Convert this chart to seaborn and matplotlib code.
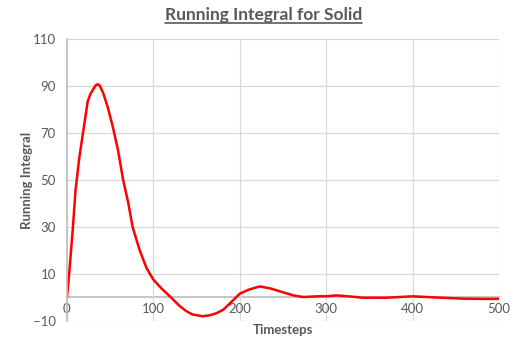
import matplotlib
matplotlib.use("Agg")
import matplotlib.pyplot as plt
import seaborn as sns
import pandas as pd
from matplotlib.lines import Line2D

# values
timesteps = [0, 3, 7, 10, 14, 18, 21, 24, 27, 30, 33, 35.5, 38, 42, 47, 53, 59,
             65, 71, 76, 84, 92, 100, 109, 121, 130, 138, 145, 157, 165,
             173, 181, 190, 200, 210, 223, 236, 250, 262, 273, 290, 300, 312,
             325, 342, 370, 400, 427, 458, 480, 500]
running_integral = [0, 11.8, 30.3, 45.9, 58.6, 68.6, 76, 83.4, 86.5, 88.4, 90.2,
                    90.8, 90.2, 87, 81.3, 72.8, 62.9, 50.1, 40.2, 30, 20.3, 12.6,
                    7.6, 4, -0.2, -3.5, -5.8, -7.2, -8.0, -7.6, -6.7, -5.2,
                    -2.0, 1.6, 3.3, 4.7, 3.8, 2.2, 0.9, 0.2, 0.5, 0.5, 0.9, 0.5,
                    -0.1, -0.1, 0.5, 0.0, -0.5, -0.6, -0.6]

y_ticks = [-10, 10, 30, 50, 70, 90, 110]
x_ticks = [0, 100, 200, 300, 400, 500]

df = pd.DataFrame({"Timesteps": timesteps, "Running Integral": running_integral})

sns.set_theme(style="white")
plt.rcParams["font.family"] = ["Lato", "DejaVu Sans"]

grey = "#595959"
grid_grey = "#d9d9d9"

fig = plt.figure(figsize=(5.27, 3.40), dpi=100)
ax = fig.add_axes([0.127, 0.056, 0.820, 0.829])

sns.lineplot(data=df, x="Timesteps", y="Running Integral", color="red",
             linewidth=1.8, ax=ax)

ax.set_xlim(0, 500)
ax.set_ylim(-10, 110)
ax.set_yticks(y_ticks)
ax.set_xticks(x_ticks)
ax.grid(True, color=grid_grey, linewidth=0.9)
ax.set_axisbelow(True)

for side in ["top", "right"]:
    ax.spines[side].set_visible(False)
ax.spines["bottom"].set_position(("data", 0))
ax.spines["bottom"].set_color("#bfbfbf")
ax.spines["left"].set_color("#bfbfbf")
ax.spines["bottom"].set_zorder(0.5)
ax.tick_params(axis="both", length=0, colors=grey, labelsize=9.5)
ax.tick_params(axis="x", pad=4)
ax.tick_params(axis="y", pad=8)

ax.set_xlabel("Timesteps", fontsize=9.5, fontweight="bold", color=grey)
ax.xaxis.set_label_coords(0.5, -0.012)
ax.set_ylabel("Running Integral", fontsize=9.5, fontweight="bold", color=grey)
ax.yaxis.set_label_coords(-0.079, 0.5)

title = fig.text(0.5, 0.955, "Running Integral for Solid", ha="center",
                 va="center", fontsize=12.5, fontweight="bold", color=grey)

# underline the title like the original
fig.canvas.draw()
bb = title.get_window_extent().transformed(fig.transFigure.inverted())
fig.add_artist(Line2D([bb.x0, bb.x1], [bb.y0 + 0.002, bb.y0 + 0.002],
                      transform=fig.transFigure, color=grey, linewidth=1.2))

fig.savefig("out.png", dpi=100)
